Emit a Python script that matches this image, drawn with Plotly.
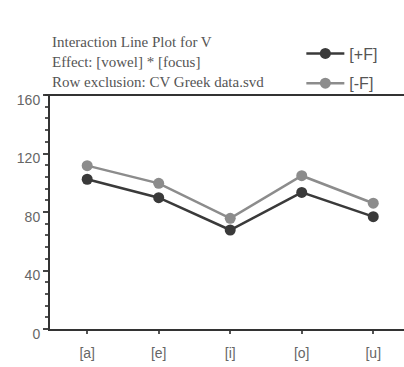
import plotly.graph_objects as go

categories = ["[a]", "[e]", "[i]", "[o]", "[u]"]
plus_f = [102.4, 89.8, 67.7, 93.4, 76.8]
minus_f = [111.7, 99.6, 75.7, 104.8, 86.0]
series_names = ["[+F]", "[-F]"]
title_lines = ["Interaction Line Plot for V",
               "Effect: [vowel] * [focus]",
               "Row exclusion: CV Greek data.svd"]
y_ticks = [0, 40, 80, 120, 160]

fig = go.Figure()
fig.add_trace(go.Scatter(x=list(range(len(categories))), y=plus_f, name=series_names[0],
                         mode="lines+markers", legendgroup="a",
                         line=dict(color="#3a3a3a", width=2.5),
                         marker=dict(color="#3a3a3a", size=11)))
fig.add_trace(go.Scatter(x=list(range(len(categories))), y=minus_f, name=series_names[1],
                         mode="lines+markers", legendgroup="b",
                         line=dict(color="#8c8c8c", width=2.5),
                         marker=dict(color="#8c8c8c", size=11)))

for i, t in enumerate(title_lines):
    fig.add_annotation(text=t, xref="paper", yref="paper", x=0.0, y=1 + (53 - 20 * i) / 234,
                       xanchor="left", yanchor="middle", showarrow=False,
                       font=dict(family="Liberation Serif", size=15, color="#555555"))

# top frame line at the 160 level
fig.add_shape(type="line", xref="paper", yref="paper", x0=-0.015, x1=1.0, y0=1, y1=1,
              line=dict(color="#333333", width=2))

fig.update_layout(
    width=404, height=367,
    margin=dict(l=50, r=0, t=95, b=38),
    paper_bgcolor="white", plot_bgcolor="white",
    showlegend=True,
    legend=dict(x=0.71, y=1.25, xanchor="left", yanchor="top",
                font=dict(family="Liberation Sans", size=16, color="#555555"),
                tracegroupgap=6, bgcolor="rgba(0,0,0,0)", traceorder="grouped",
                itemwidth=38),
    xaxis=dict(range=[-0.52, 4.43], tickmode="array",
               tickvals=list(range(len(categories))), ticktext=categories,
               showgrid=False, zeroline=False, showline=True, linecolor="#333333",
               linewidth=2, ticks="outside", ticklen=3, tickwidth=2,
               tickcolor="#555555", ticklabelstandoff=7,
               tickfont=dict(family="Liberation Sans", size=14, color="#666666")),
    yaxis=dict(range=[0, 160], tickvals=y_ticks, showgrid=False, zeroline=False,
               showline=True, linecolor="#333333", linewidth=2,
               ticks="outside", ticklen=5, tickwidth=2, tickcolor="#444444",
               ticklabelshift=5,
               minor=dict(dtick=8, ticks="outside", ticklen=3, tickwidth=2, tickcolor="#555555"),
               tickfont=dict(family="Liberation Sans", size=14, color="#666666")),
)

fig.write_html("out.html", config={"displayModeBar": False},
               post_script="document.body.style.overflow='hidden';")
